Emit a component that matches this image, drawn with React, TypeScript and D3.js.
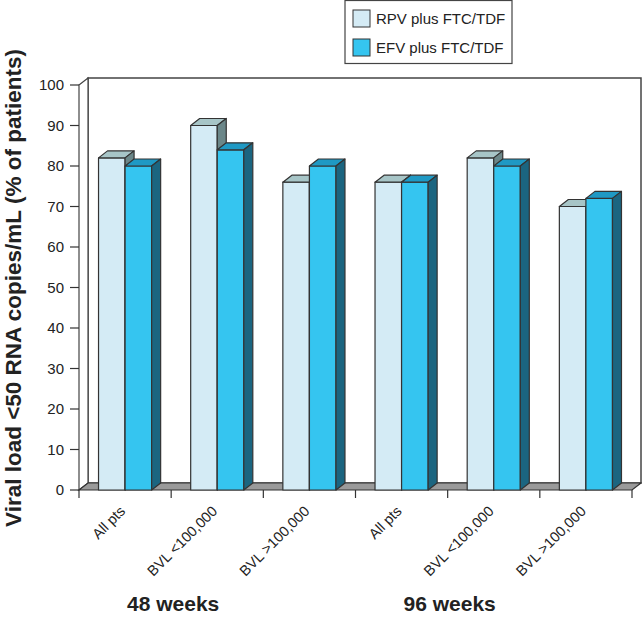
import React from "react";
import * as d3 from "d3";

const categories = ["All pts", "BVL <100,000", "BVL >100,000", "All pts", "BVL <100,000", "BVL >100,000"];
const seriesNames = ["RPV plus FTC/TDF", "EFV plus FTC/TDF"];
const rpvValues = [82, 90, 76, 76, 82, 70];
const efvValues = [80, 84, 80, 76, 80, 72];
const yTicks = [0, 10, 20, 30, 40, 50, 60, 70, 80, 90, 100];
const groupLabels = ["48 weeks", "96 weeks"];
const groupTickIndex = [1, 4];
const yTitle = "Viral load <50 RNA copies/mL (% of patients)";

const W = 642, H = 625;
const left = 79, right = 632, bottom = 490, top = 85;
const DX = 9, DY = 7;
const FONT = "'Liberation Sans', Arial, sans-serif";
const OUT = "#333";

const colors = [
  { front: "#d4ebf5", top: "#a7c5c7", side: "#6b8789" },
  { front: "#35c5f0", top: "#1f99c4", side: "#1b6580" },
];

export default function App() {
  const x = d3.scaleBand<number>().domain(d3.range(categories.length)).range([left, right]).paddingInner(0).paddingOuter(0);
  const xs = d3.scaleBand<number>().domain([0, 1]).range([0, x.bandwidth()]).paddingInner(0).paddingOuter(0.735);
  const y = d3.scaleLinear().domain([0, 100]).range([bottom, top]);
  const values = [rpvValues, efvValues];
  const bw = xs.bandwidth();

  const bars: JSX.Element[] = [];
  categories.forEach((_, ci) => {
    values.forEach((vals, si) => {
      const x0 = (x(ci) as number) + (xs(si) as number);
      const x1 = x0 + bw;
      const yt = y(vals[ci]);
      const c = colors[si];
      bars.push(
        <g key={`b${ci}-${si}`} stroke={OUT} strokeWidth={1.2} strokeLinejoin="round">
          <rect x={x0} y={yt} width={bw} height={bottom - yt} fill={c.front} />
          <polygon points={`${x0},${yt} ${x0 + DX},${yt - DY} ${x1 + DX},${yt - DY} ${x1},${yt}`} fill={c.top} />
          <polygon points={`${x1},${yt} ${x1 + DX},${yt - DY} ${x1 + DX},${bottom - DY} ${x1},${bottom}`} fill={c.side} />
        </g>
      );
    });
  });

  return (
    <svg width={W} height={H} style={{ position: "absolute", left: 0, top: 0, background: "#fff" }} fontFamily={FONT}>
      {/* back wall */}
      <rect x={left + DX} y={top - DY} width={right - left} height={bottom - top} fill="#fff" stroke="#444" strokeWidth={1.5} />
      {/* left wall */}
      <polygon points={`${left},${top} ${left + DX},${top - DY} ${left + DX},${bottom - DY} ${left},${bottom}`} fill="#fff" stroke="#444" strokeWidth={1.2} />
      {/* floor */}
      <polygon points={`${left},${bottom} ${left + DX},${bottom - DY} ${right + DX},${bottom - DY} ${right},${bottom}`} fill="#9a9a9a" stroke="#333" strokeWidth={1.2} />
      {bars}
      {/* y ticks */}
      {yTicks.map((t) => (
        <g key={`yt${t}`}>
          <line x1={left - 9} x2={left} y1={y(t)} y2={y(t)} stroke="#333" strokeWidth={1.2} />
          <text x={left - 15} y={y(t)} dy="0.35em" textAnchor="end" fontSize={15} fill="#222">{t}</text>
        </g>
      ))}
      {/* x ticks */}
      {d3.range(categories.length + 1).map((i) => {
        const xx = left + i * x.step();
        return <line key={`xt${i}`} x1={xx} x2={xx} y1={bottom} y2={bottom + 8} stroke="#333" strokeWidth={1.2} />;
      })}
      {categories.map((c, i) => {
        const cx = (x(i) as number) + x.bandwidth() / 2;
        return (
          <text key={`xl${i}`} transform={`translate(${cx + 1},${bottom + 22}) rotate(-45)`} textAnchor="end" fontSize={14.5} fill="#222">{c}</text>
        );
      })}
      {groupLabels.map((g, i) => {
        const cx = left + groupTickIndex[i] * x.step();
        return <text key={`g${i}`} x={cx + 2} y={611} textAnchor="middle" fontSize={21} fontWeight="bold" fill="#222">{g}</text>;
      })}
      <text transform={`translate(21,288) rotate(-90)`} textAnchor="middle" fontSize={22.5} fontWeight="bold" fill="#222">{yTitle}</text>
      {/* legend */}
      <g>
        <rect x={345} y={0.5} width={167} height={63} fill="#fff" stroke="#444" strokeWidth={1.2} />
        {seriesNames.map((s, i) => (
          <g key={`lg${i}`}>
            <rect x={353} y={10 + i * 29} width={17} height={17} fill={colors[i].front} stroke={OUT} strokeWidth={1} />
            <text x={376} y={24 + i * 29} fontSize={15} fill="#222">{s}</text>
          </g>
        ))}
      </g>
    </svg>
  );
}
